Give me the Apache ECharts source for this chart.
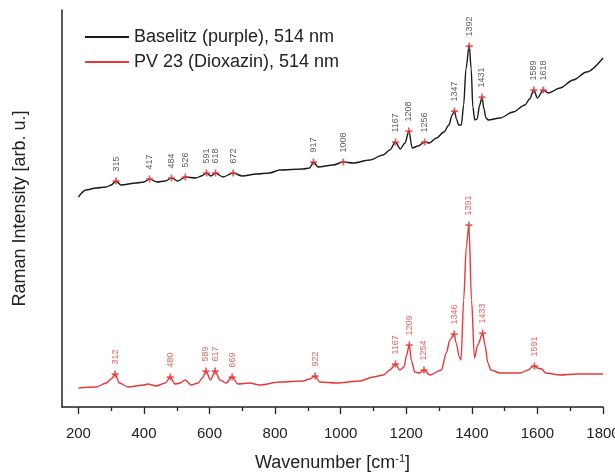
<!DOCTYPE html>
<html>
<head>
<meta charset="utf-8">
<script src="https://cdn.jsdelivr.net/npm/echarts@6/dist/echarts.min.js"></script>
<style>
  html, body { margin: 0; padding: 0; background: #fff; }
  #main { width: 615px; height: 473px; }
</style>
</head>
<body>
<div id="main"></div>
<script>
// spectra: [wavenumber, intensity (arb.)]
const baselitz = [
  [200,210],[223,217],[254,219],[285,220],[300,222],[315,226],[330,222],[376,224],[400,225],
  [417,228],[440,225],[465,226],[484,229],[503,226],[526,230],[559,229],[575,231],[591,234],
  [604,231],[618,234],[641,230],[672,234],[700,231],[743,233],[783,234],[814,237],[885,238],
  [905,239],[917,245],[931,240],[977,242],[1008,245],[1038,244],[1089,247],[1129,252],
  [1150,257],[1167,265],[1182,258],[1196,264],[1208,276],[1218,259],[1236,261],[1256,265],
  [1270,264],[1292,269],[1315,275],[1330,282],[1340,292],[1347,296],[1353,288],[1360,282],
  [1368,282],[1375,302],[1382,338],[1392,362],[1398,338],[1403,300],[1409,287],[1416,288],
  [1424,302],[1431,310],[1437,298],[1443,289],[1450,287],[1486,289],[1526,295],[1562,302],
  [1576,308],[1589,317],[1600,309],[1618,317],[1633,314],[1669,319],[1709,327],[1750,335],
  [1800,349]
];
const pv23 = [
  [200,19],[254,20],[285,24],[300,28],[312,33],[325,24],[351,20],[400,22],[412,23],[437,21],
  [465,24],[480,30],[495,23],[510,24],[526,27],[544,22],[565,24],[578,29],[589,36],[603,27],
  [617,36],[632,27],[650,24],[669,30],[686,23],[722,24],[753,22],[814,25],[885,26],[905,28],
  [922,31],[936,25],[987,24],[1058,26],[1099,30],[1130,32],[1150,37],[1167,43],[1180,37],
  [1193,40],[1201,52],[1209,62],[1216,46],[1226,35],[1240,34],[1254,37],[1272,32],[1307,37],
  [1322,54],[1333,67],[1346,73],[1352,64],[1362,50],[1367,47],[1375,107],[1383,160],[1391,182],
  [1399,107],[1408,49],[1418,62],[1433,74],[1440,62],[1449,44],[1458,37],[1486,34],[1547,34],
  [1572,37],[1583,40],[1591,41],[1600,39],[1613,38],[1625,34],[1669,32],[1720,33],[1800,33]
];
// marked peaks
const baselitzPeaks = [
  [315,226],[417,228],[484,229],[526,230],[591,234],[618,234],[672,234],[917,245],[1008,245],
  [1167,265],[1208,276],[1256,265],[1347,296],[1392,361],[1431,310],[1589,317],[1618,317]
];
const pv23Peaks = [
  [312,33],[480,30],[589,36],[617,36],[669,30],[922,31],[1167,43],[1209,62],[1254,37],
  [1346,73],[1391,182],[1433,74],[1591,41]
];
const majorTicks = [200,400,600,800,1000,1200,1400,1600,1800];
const minorTicks = [300,500,700,900,1100,1300,1500,1700];

const RED = '#e8383a';
const plus = 'path://M3,0h2v3h3v2h-3v3h-2v-3h-3v-2h3z';

let myChart = echarts.init(document.getElementById('main'));

function peakSeries(data, labelColor) {
  return {
    type: 'scatter',
    data: data,
    symbol: plus,
    symbolSize: 7,
    itemStyle: { color: RED },
    silent: true,
    z: 5,
    label: {
      show: true,
      position: 'top',
      distance: 6,
      rotate: 90,
      align: 'left',
      verticalAlign: 'middle',
      fontSize: 9,
      fontFamily: 'Liberation Sans',
      color: labelColor,
      formatter: p => p.value[0]
    }
  };
}

let option = {
  animation: false,
  textStyle: { fontFamily: 'Liberation Sans' },
  grid: { left: 62, right: 12, top: 10, bottom: 66, outerBoundsMode: 'none' },
  legend: {
    orient: 'vertical',
    left: 80,
    top: 23,
    itemWidth: 44,
    itemHeight: 2,
    itemGap: 7,
    icon: 'rect',
    textStyle: { fontSize: 18, color: '#222' },
    data: ['Baselitz (purple), 514 nm', 'PV 23 (Dioxazin), 514 nm']
  },
  xAxis: [
    {
      type: 'value',
      min: 150,
      max: 1800,
      splitLine: { show: false },
      axisLine: { lineStyle: { color: '#222', width: 1.5 } },
      axisTick: { customValues: majorTicks, length: 7, lineStyle: { color: '#222', width: 1.3 } },
      axisLabel: { customValues: majorTicks, fontSize: 15, color: '#222', margin: 19, formatter: v => String(v) },
      name: 'Wavenumber [cm{sup|-1}]',
      nameLocation: 'middle',
      nameGap: 46,
      nameTextStyle: {
        fontSize: 18, color: '#222',
        rich: { sup: { fontSize: 11, color: '#222', verticalAlign: 'top', padding: [0, 0, 9, 0] } }
      }
    },
    {
      type: 'value',
      position: 'bottom',
      min: 150,
      max: 1800,
      splitLine: { show: false },
      axisLine: { show: false },
      axisTick: { customValues: minorTicks, length: 4, lineStyle: { color: '#222', width: 1.3 } },
      axisLabel: { show: false }
    }
  ],
  yAxis: {
    type: 'value',
    min: 0,
    max: 397,
    splitLine: { show: false },
    axisLine: { show: true, lineStyle: { color: '#222', width: 1.5 } },
    axisTick: { show: false },
    axisLabel: { show: false },
    name: 'Raman Intensity [arb. u.]',
    nameLocation: 'middle',
    nameGap: 33,
    nameTextStyle: { fontSize: 18, color: '#222' }
  },
  series: [
    {
      type: 'line',
      name: 'Baselitz (purple), 514 nm',
      data: baselitz,
      showSymbol: false,
      smooth: 0.3,
      smoothMonotone: 'x',
      color: '#1a1a1a',
      lineStyle: { width: 1.4 }
    },
    {
      type: 'line',
      name: 'PV 23 (Dioxazin), 514 nm',
      data: pv23,
      showSymbol: false,
      smooth: 0.3,
      smoothMonotone: 'x',
      color: RED,
      lineStyle: { width: 1.4 }
    },
    peakSeries(baselitzPeaks, '#333'),
    peakSeries(pv23Peaks, RED)
  ]
};
myChart.setOption(option);
</script>
</body>
</html>
